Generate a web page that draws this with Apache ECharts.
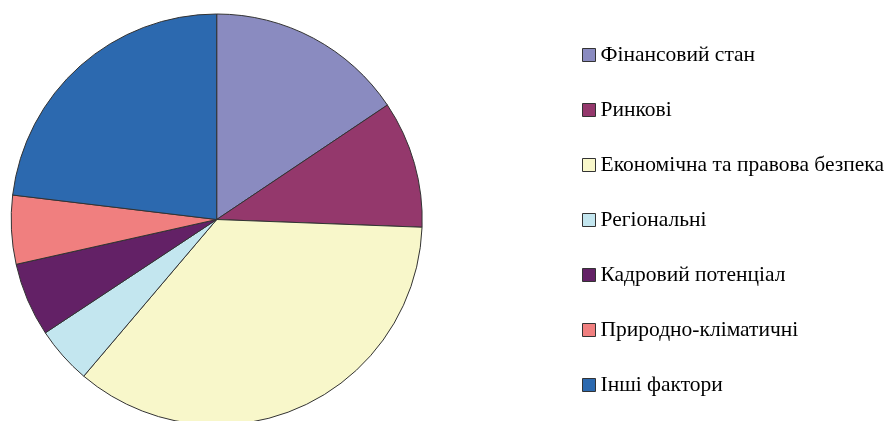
<!DOCTYPE html>
<html>
<head>
<meta charset="utf-8">
<script src="https://cdn.jsdelivr.net/npm/echarts@6/dist/echarts.min.js"></script>
<style>
html,body{margin:0;padding:0;background:#fff;}
#chart{width:887px;height:421px;}
</style>
</head>
<body>
<div id="chart"></div>
<script>
var categories = ['Фінансовий стан','Ринкові','Економічна та правова безпека','Регіональні','Кадровий потенціал','Природно-кліматичні','Інші фактори'];
var values = [15.6, 10.0, 35.6, 4.5, 5.8, 5.4, 23.1];
var colors = ['#8A8BC0','#94386C','#F8F7CA','#C3E6EF','#632166','#F07F7F','#2C69AF'];

var chart = echarts.init(document.getElementById('chart'), null, {renderer:'canvas'});
chart.setOption({
  animation:false,
  backgroundColor:'#ffffff',
  color: colors,
  textStyle:{fontFamily:'Liberation Serif'},
  legend:{
    orient:'vertical',
    left:582,
    top:43,
    padding:0,
    itemWidth:13,
    itemHeight:13,
    itemGap:31,
    icon:'rect',
    itemStyle:{borderColor:'#333333', borderWidth:1},
    textStyle:{fontFamily:'Liberation Serif', fontSize:21.5, color:'#000', lineHeight:24},
    data: categories
  },
  series:[{
    type:'pie',
    center:[216.7,219.5],
    radius:205.5,
    startAngle:90,
    clockwise:true,
    label:{show:false},
    labelLine:{show:false},
    emphasis:{disabled:true},
    itemStyle:{borderColor:'#333333', borderWidth:1},
    data: categories.map(function(c,i){return {name:c, value:values[i]};})
  }]
});
</script>
</body>
</html>
